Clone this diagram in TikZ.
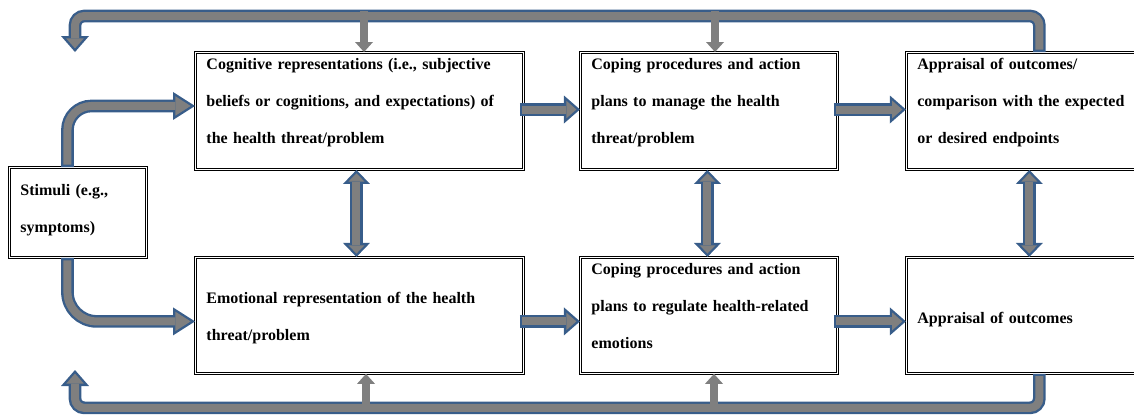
\documentclass[tikz,border=0pt]{standalone}
\usepackage{fontspec}
\setmainfont{Liberation Serif}
\usetikzlibrary{arrows.meta,positioning}
\definecolor{flowblue}{HTML}{385D8A}
\definecolor{flowgray}{HTML}{7F7F7F}
\definecolor{boxborder}{HTML}{000000}

\begin{document}
\begin{tikzpicture}[x=0.75pt,y=-0.75pt,node distance=42pt]
\tikzstyle{stage}=[draw=boxborder,double,double distance=0.7pt,line width=0.7pt,align=left,inner xsep=8.25pt,inner ysep=0pt,font=\fontsize{12pt}{27.75pt}\selectfont\bfseries]
\tikzstyle{flow}=[draw=flowgray,line width=6pt,shorten <=1.75pt,shorten >=2.66pt,-{Triangle[length=7.6pt,width=13.3pt,line width=0pt]},preaction={draw=flowblue,line width=9.5pt,shorten <=0pt,shorten >=0pt,-{Triangle[length=12pt,width=21pt,line width=0pt]}}]
\tikzstyle{flowlong}=[draw=flowgray,line width=6pt,shorten <=1.75pt,shorten >=3.26pt,-{Triangle[length=11.5pt,width=14.6pt,line width=0pt]},preaction={draw=flowblue,line width=9.5pt,shorten <=0pt,shorten >=0pt,-{Triangle[length=16.5pt,width=21pt,line width=0pt]}}]
\tikzstyle{flowboth}=[draw=flowgray,line width=6pt,shorten <=2.52pt,shorten >=2.52pt,{Triangle[length=6.2pt,width=12pt,line width=0pt]}-{Triangle[length=6.2pt,width=12pt,line width=0pt]},preaction={draw=flowblue,line width=9.5pt,shorten <=0pt,shorten >=0pt,{Triangle[length=10.5pt,width=20.25pt,line width=0pt]}-{Triangle[length=10.5pt,width=20.25pt,line width=0pt]}}]
\tikzstyle{feed}=[draw=flowgray,line width=6.5pt,-{Triangle[length=7.5pt,width=13.5pt,line width=0pt]}]
\useasboundingbox (0,0) rectangle (1134,415);

% the six stages and the stimulus
\node[stage,anchor=north west,text width=86.25pt,text height=21pt,text depth=46.5pt] (stim) at (9,167) {Stimuli (e.g.,\\symptoms)};
\node[stage,anchor=north west,text width=229.5pt,text height=12.75pt,text depth=75pt] (cog) at (195,52) {Cognitive representations (i.e., subjective\\beliefs or cognitions, and expectations) of\\the health threat/problem};
\node[stage,right=of cog,text width=176.25pt,text height=12.75pt,text depth=75pt] (cope1) {Coping procedures and action\\plans to manage the health\\threat/problem};
\node[stage,right=51pt of cope1,text width=183pt,text height=12.75pt,text depth=75pt] (app1) {Appraisal of outcomes/\\comparison with the expected\\or desired endpoints};
\node[stage,below=65.25pt of cog,text width=229.5pt,text height=34.5pt,text depth=52.5pt] (emo) {Emotional representation of the health\\threat/problem};
\node[stage,below=65.25pt of cope1,text width=176.25pt,text height=12.75pt,text depth=74.25pt] (cope2) {Coping procedures and action\\plans to regulate health-related\\emotions};
\node[stage,below=65.25pt of app1,text width=183pt,text height=49.5pt,text depth=37.5pt] (app2) {Appraisal of outcomes};

% feedback loops
\coordinate (toptip) at (75,52);
\coordinate (bottip) at (75,370);
\draw[flow,rounded corners=7pt] (app1.north) -- ++(0,-36) -| (toptip);
\draw[flow,rounded corners=7pt] (app2.south) -- ++(0,34) -| (bottip);
\coordinate (feedA) at (364,11);
\coordinate (feedB) at (715,11);
\coordinate (feedC) at (366,411);
\coordinate (feedD) at (714,411);
\draw[feed] (feedA) -- (feedA |- cog.north);
\draw[feed] (feedB) -- (feedB |- cope1.north);
\draw[feed] (feedC) -- (feedC |- emo.south);
\draw[feed] (feedD) -- (feedD |- cope2.south);

% forward flow
\draw[flowlong,rounded corners=18pt] ([xshift=-7.9pt]stim.north) |- ([yshift=3.75pt]cog.west);
\draw[flowlong,rounded corners=22pt] ([xshift=-7.9pt]stim.south) |- ([yshift=-4.5pt]emo.west);
\draw[flow] ([xshift=-3pt,yshift=1.1pt]cog.east) -- ([yshift=1.1pt]cope1.west);
\draw[flow] ([xshift=-3pt,yshift=1.1pt]cope1.east) -- ([yshift=1.1pt]app1.west);
\draw[flow] ([xshift=-3pt,yshift=-4.5pt]emo.east) -- ([yshift=-4.5pt]cope2.west);
\draw[flow] ([xshift=-3pt,yshift=-4.5pt]cope2.east) -- ([yshift=-4.5pt]app2.west);
\draw[flowboth] ([xshift=-2.25pt]cog.south) -- ([xshift=-2.25pt]emo.north);
\draw[flowboth] ([xshift=-1.1pt]cope1.south) -- ([xshift=-1.1pt]cope2.north);
\draw[flowboth] ([xshift=-7.5pt]app1.south) -- ([xshift=-7.5pt]app2.north);
\end{tikzpicture}
\end{document}
